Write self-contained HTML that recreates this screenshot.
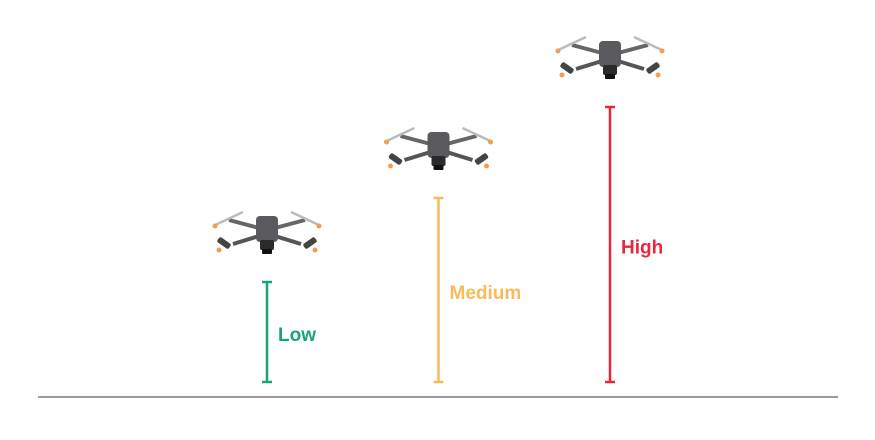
<!DOCTYPE html>
<html><head><meta charset="utf-8"><style>
html,body{margin:0;padding:0;background:#fff;}
svg{display:block;font-family:"Liberation Sans",sans-serif;}
</style></head><body>
<svg id="chart" width="875" height="440" viewBox="0 0 875 440">
<defs>
<g id="drone">
  <line x1="-8" y1="-4" x2="-38" y2="-12" stroke="#666" stroke-width="4"/>
  <line x1="8" y1="-4" x2="38" y2="-12" stroke="#666" stroke-width="4"/>
  <line x1="-8" y1="4" x2="-34" y2="12" stroke="#555" stroke-width="4"/>
  <line x1="8" y1="4" x2="34" y2="12" stroke="#555" stroke-width="4"/>
  <line x1="-54" y1="-6" x2="-24" y2="-20" stroke="#bbb" stroke-width="2.5"/>
  <line x1="54" y1="-6" x2="24" y2="-20" stroke="#bbb" stroke-width="2.5"/>
  <circle cx="-52" cy="-6" r="2.5" fill="#f0a050"/>
  <circle cx="52" cy="-6" r="2.5" fill="#f0a050"/>
  <rect x="-50" y="8" width="14" height="6" rx="2" fill="#444" transform="rotate(35 -43 11)"/>
  <rect x="36" y="8" width="14" height="6" rx="2" fill="#444" transform="rotate(-35 43 11)"/>
  <circle cx="-48" cy="18" r="2.5" fill="#f0a050"/>
  <circle cx="48" cy="18" r="2.5" fill="#f0a050"/>
  <rect x="-11" y="-16" width="22" height="26" rx="4" fill="#5a5a5e"/>
  <rect x="-7" y="8" width="14" height="10" rx="2" fill="#2a2a2a"/>
  <rect x="-5" y="17" width="10" height="5" rx="1" fill="#111"/>
</g>
</defs>
<line x1="38" y1="397" x2="838" y2="397" stroke="#9a9a9a" stroke-width="2"/>
<g id="marks"></g>
</svg>
<script>
const categories = ["Low", "Medium", "High"];
const heights = [100, 184, 275];
const colors = ["#17a673", "#f8bb5a", "#e8283a"];
const xScale = i => 267 + i * 171.5;
const yScale = v => 382 - v;
const ns = "http://www.w3.org/2000/svg";
const g = document.getElementById("marks");
categories.forEach((c, i) => {
  const x = xScale(i), y0 = yScale(0), y1 = yScale(heights[i]);
  const grp = document.createElementNS(ns, "g");
  
  
  const add = (tag, attrs) => { const e = document.createElementNS(ns, tag); for (const k in attrs) e.setAttribute(k, attrs[k]); grp.appendChild(e); return e; };
  const l = add("line", {x1: x, y1: y0, x2: x, y2: y1, stroke: colors[i], "stroke-width": 2.5});
  
  
  add("line", {x1: x - 5, y1: y0, x2: x + 5, y2: y0, stroke: colors[i], "stroke-width": 2.5});
  add("line", {x1: x - 5, y1: y1, x2: x + 5, y2: y1, stroke: colors[i], "stroke-width": 2.5});
  const t = add("text", {x: x + 11, y: (y0 + y1) / 2 + 9, fill: colors[i], "font-size": 19, "font-weight": "bold"});
  t.textContent = c;
  
  
  const d = add("use", {href: "#drone", transform: `translate(${x},${y1 - 50})`});
  
  
  g.appendChild(grp);
});
</script>
</body></html>
